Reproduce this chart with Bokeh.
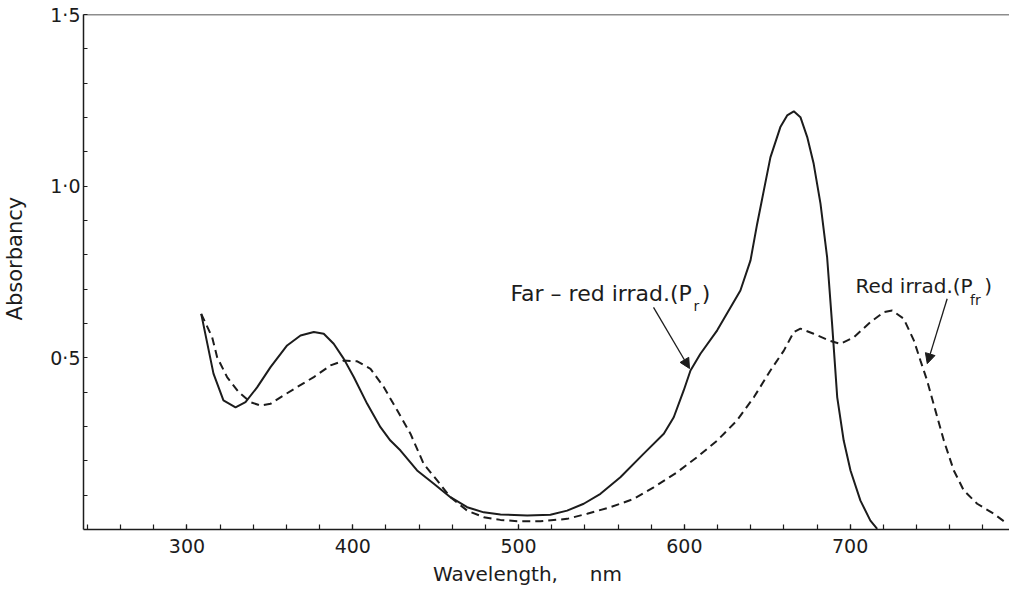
from bokeh.plotting import figure
from bokeh.models import Range1d, FixedTicker, Span, Label, Arrow, NormalHead
from bokeh.embed import file_html
from bokeh.resources import INLINE

# Far-red irradiated (Pr) - solid curve
pr_wavelength = [308.6, 316.0, 322.0, 329.3, 335.3, 342.3, 350.4, 360.4, 368.5, 376.5,
                 382.5, 388.5, 394.6, 400.6, 408.7, 416.7, 422.7, 428.8, 438.8, 448.9,
                 458.9, 469.0, 479.0, 489.1, 505.2, 519.2, 529.3, 539.3, 549.4, 561.4,
                 575.5, 587.6, 593.6, 599.6, 603.7, 609.7, 619.8, 633.8, 639.9, 643.9,
                 647.9, 651.9, 657.9, 662.0, 666.0, 670.0, 674.1, 678.0, 682.1, 686.1,
                 689.1, 692.2, 696.1, 700.2, 706.2, 712.2, 716.3]
pr_absorbancy = [0.628, 0.454, 0.376, 0.356, 0.371, 0.414, 0.473, 0.536, 0.565, 0.575,
                 0.570, 0.541, 0.497, 0.444, 0.366, 0.298, 0.259, 0.230, 0.172, 0.133,
                 0.094, 0.065, 0.050, 0.044, 0.041, 0.043, 0.055, 0.075, 0.104, 0.152,
                 0.221, 0.279, 0.327, 0.405, 0.463, 0.512, 0.580, 0.696, 0.784, 0.890,
                 0.987, 1.084, 1.172, 1.206, 1.218, 1.201, 1.143, 1.065, 0.949, 0.793,
                 0.599, 0.385, 0.259, 0.172, 0.084, 0.026, 0.002]

# Red irradiated (Pfr) - dashed curve
pfr_wavelength = [308.6, 315.2, 318.2, 324.2, 331.2, 338.3, 344.3, 350.4, 356.4, 366.5,
                  376.5, 386.6, 394.6, 402.7, 410.7, 418.7, 426.8, 434.8, 442.8, 450.9,
                  458.9, 469.0, 479.0, 489.1, 499.2, 513.2, 529.3, 541.4, 555.4, 569.5,
                  581.5, 595.7, 607.7, 619.8, 631.8, 641.9, 651.9, 660.0, 666.0, 670.0,
                  678.0, 688.1, 694.1, 702.2, 712.2, 720.3, 725.3, 732.3, 738.4, 742.4,
                  746.4, 751.4, 756.5, 762.5, 768.5, 776.6, 786.6, 794.7]
pfr_absorbancy = [0.628, 0.560, 0.502, 0.444, 0.400, 0.371, 0.361, 0.366, 0.385, 0.415,
                  0.444, 0.478, 0.492, 0.490, 0.468, 0.415, 0.347, 0.279, 0.191, 0.143,
                  0.094, 0.055, 0.036, 0.028, 0.024, 0.024, 0.031, 0.046, 0.065, 0.089,
                  0.123, 0.167, 0.211, 0.259, 0.318, 0.385, 0.463, 0.521, 0.575, 0.585,
                  0.570, 0.549, 0.541, 0.560, 0.604, 0.633, 0.638, 0.614, 0.551, 0.492,
                  0.434, 0.347, 0.259, 0.172, 0.114, 0.075, 0.046, 0.017]

x_major = [300, 400, 500, 600, 700]
x_minor = list(range(240, 800, 20))
y_major = [0.5, 1.0, 1.5]
y_minor = [0.1, 0.2, 0.3, 0.4, 0.6, 0.7, 0.8, 0.9, 1.1, 1.2, 1.3, 1.4]
y_labels = {0.5: "0·5", 1.0: "1·0", 1.5: "1·5"}

INK = "#1c1c1c"
FONT = "DejaVu Sans"
NB = "\u00a0"

p = figure(width=1009, height=595, output_backend="svg", toolbar_location=None,
           x_range=Range1d(237.6, 796.1), y_range=Range1d(0, 1.5),
           min_border_left=83, min_border_right=0, min_border_top=14, min_border_bottom=66)
p.outline_line_color = None
p.xgrid.visible = False
p.ygrid.visible = False
p.background_fill_color = "white"

for ax in (p.xaxis[0], p.yaxis[0]):
    ax.axis_line_color = INK
    ax.axis_line_width = 1.5
    ax.major_tick_line_color = INK
    ax.minor_tick_line_color = INK
    ax.major_tick_line_width = 1.2
    ax.minor_tick_line_width = 1.2
    ax.major_tick_out = 0
    ax.minor_tick_out = 0
    ax.major_label_text_font = FONT
    ax.major_label_text_color = INK
    ax.major_label_text_font_size = "19px"
    ax.axis_label_text_font = FONT
    ax.axis_label_text_font_style = "normal"
    ax.axis_label_text_color = INK

p.xaxis.ticker = FixedTicker(ticks=x_major, minor_ticks=x_minor)
p.xaxis.major_tick_in = 5
p.xaxis.minor_tick_in = 5
p.xaxis.major_label_standoff = 9
p.xaxis.axis_label = "Wavelength," + NB * 5 + "nm" + NB * 6
p.xaxis.axis_label_text_font_size = "20px"
p.xaxis.axis_label_standoff = 6

p.yaxis.ticker = FixedTicker(ticks=y_major, minor_ticks=y_minor)
p.yaxis.major_label_overrides = y_labels
p.yaxis.major_tick_in = 4
p.yaxis.minor_tick_in = 4
p.yaxis.major_label_standoff = 3
p.yaxis.axis_label = NB * 4 + "Absorbancy"
p.yaxis.axis_label_text_font_size = "21px"
p.yaxis.axis_label_standoff = 20

p.add_layout(Span(location=1.5, dimension="width", line_color=INK, line_width=1.5))

p.line(pr_wavelength, pr_absorbancy, line_color=INK, line_width=2)
p.line(pfr_wavelength, pfr_absorbancy, line_color=INK, line_width=2, line_dash="8 5")

# Annotations
def add_text(x, y, t, size="20px"):
    p.add_layout(Label(x=x, y=y, text=t, text_align="left", text_baseline="middle",
                       text_font=FONT, text_font_size=size, text_color=INK))

add_text(495.1, 0.687, "Far – red irrad.(P", "22px")
add_text(605.5, 0.652, "r", "14px")
add_text(610.5, 0.687, ")", "22px")
add_text(703.2, 0.708, "Red irrad.(P")
add_text(772.3, 0.668, "fr", "14px")
add_text(780.8, 0.708, ")")

p.add_layout(Arrow(end=NormalHead(size=10, fill_color=INK, line_color=INK),
                   x_start=581.4, y_start=0.647, x_end=603.1, y_end=0.469,
                   line_color=INK, line_width=1.3))
p.add_layout(Arrow(end=NormalHead(size=10, fill_color=INK, line_color=INK),
                   x_start=758.5, y_start=0.672, x_end=746.5, y_end=0.483,
                   line_color=INK, line_width=1.3))

open("out.html", "w").write(file_html(p, INLINE))
